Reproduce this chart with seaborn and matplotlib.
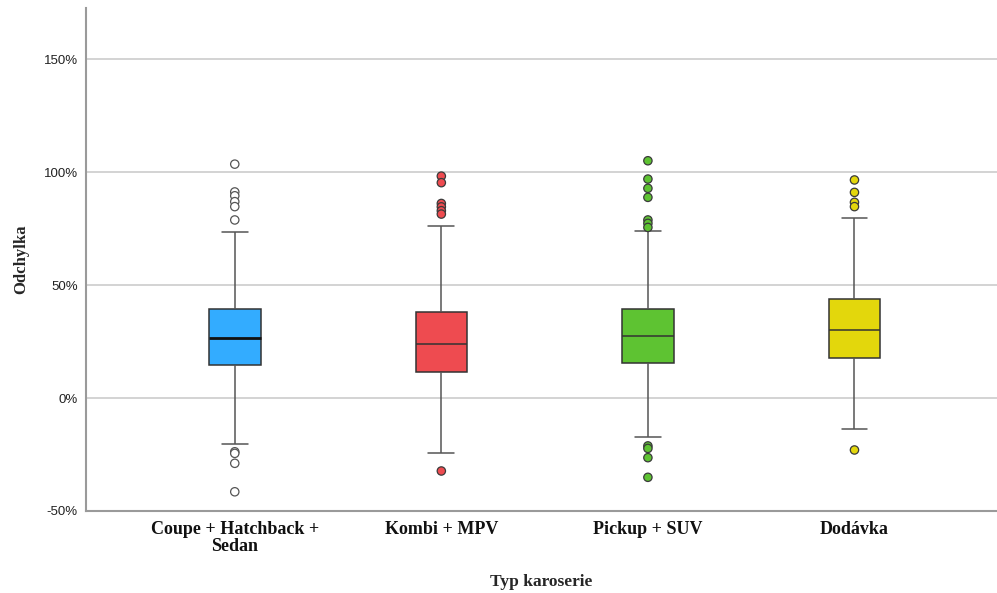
import numpy as np
import pandas as pd
import seaborn as sns
import matplotlib.pyplot as plt

# ---- data ----
categories = ["Coupe + Hatchback +\nSedan", "Kombi + MPV", "Pickup + SUV", "Dodávka"]
lower_whisker = [-20.5, -24.5, -17.4, -13.6]
q1 = [14.6, 11.6, 15.3, 17.8]
median = [26.7, 23.9, 27.4, 30.1]
q3 = [39.2, 37.9, 39.2, 43.8]
upper_whisker = [73.6, 76.1, 73.9, 79.8]

outliers_coupe = [103.5, 91.2, 89.5, 86.9, 84.7, 78.8, -23.8, -24.5, -28.9, -41.5]
outliers_kombi = [98.2, 95.3, 86.1, 84.6, 82.9, 81.4, -32.3]
outliers_pickup = [105.0, 96.9, 92.8, 88.8, 78.8, 77.3, 75.5, -21.2, -22.3, -26.4, -35.1]
outliers_dodavka = [96.5, 91.0, 86.6, 84.7, -23.0]

box_colors = ["#33acff", "#ee4b50", "#5ec332", "#e3d70c"]
outlier_colors = ["#ffffff", "#ee4b50", "#5ec332", "#e3d70c"]
y_ticks = [-50, 0, 50, 100, 150]

# ---- tables ----
summary_rows = []
for cat, a, b, c, d, e in zip(categories, lower_whisker, q1, median, q3, upper_whisker):
    for v in (a, b, c, d, e):
        summary_rows.append({"cat": cat, "val": v})
df_box = pd.DataFrame(summary_rows)

out_rows = []
for cat, lst in zip(categories, [outliers_coupe, outliers_kombi, outliers_pickup, outliers_dodavka]):
    for v in lst:
        out_rows.append({"cat": cat, "val": v})
df_out = pd.DataFrame(out_rows)

sns.set_theme(style="white")
plt.rcParams["font.family"] = ["Liberation Sans", "DejaVu Sans"]

fig = plt.figure(figsize=(9.97, 5.93), dpi=100)
ax = fig.add_axes([0.0863, 0.1383, 0.9137, 0.8482])

sns.boxplot(data=df_box, x="cat", y="val", hue="cat", order=categories,
            hue_order=categories, palette=box_colors, whis=(0, 100),
            width=0.25, linecolor="#333333", linewidth=1.1, showfliers=False,
            saturation=1, legend=False, ax=ax,
            whiskerprops={"color": "#555555"}, capprops={"color": "#555555"})

# darker, thicker median for the first box (as in reference)
for ln in ax.lines:
    yd = np.asarray(ln.get_ydata(), dtype=float)
    if len(yd) == 2 and np.allclose(yd, median[0]):
        ln.set_linewidth(2.0)
        ln.set_color("#111111")

sns.stripplot(data=df_out, x="cat", y="val", hue="cat", order=categories,
              hue_order=categories, palette=outlier_colors, jitter=False,
              size=6, linewidth=0.9, edgecolor="#3a3a3a", legend=False, ax=ax,
              zorder=5)
# first group hollow with grey edge
ax.collections[0].set_edgecolor("#555555")

ax.set_ylim(-50, 172.6)
ax.set_xlim(-0.72, 3.69)
ax.set_yticks(y_ticks)
ax.set_yticklabels([f"{t}%" for t in y_ticks], fontsize=9.5, color="#222222")
ax.set_xticks(range(len(categories)))
ax.set_xticklabels(categories, fontsize=13, fontweight="bold",
                   family=["Liberation Serif", "DejaVu Serif"], color="#111111",
                   linespacing=1.0)
ax.tick_params(axis="both", length=0)
ax.tick_params(axis="x", pad=7)
ax.tick_params(axis="y", pad=6)

ax.yaxis.grid(True, color="#c8c8c8", linewidth=1.1)
ax.set_axisbelow(True)
for s in ["top", "right"]:
    ax.spines[s].set_visible(False)
for s in ["left", "bottom"]:
    ax.spines[s].set_color("#9a9a9a")
    ax.spines[s].set_linewidth(1.5)

ax.set_xlabel("Typ karoserie", fontsize=12.5, fontweight="bold",
              family=["Liberation Serif", "DejaVu Serif"], labelpad=14)
ax.set_ylabel("Odchylka", fontsize=12, fontweight="bold",
              family=["Liberation Serif", "DejaVu Serif"], labelpad=10)

fig.savefig("out.png", dpi=100)
